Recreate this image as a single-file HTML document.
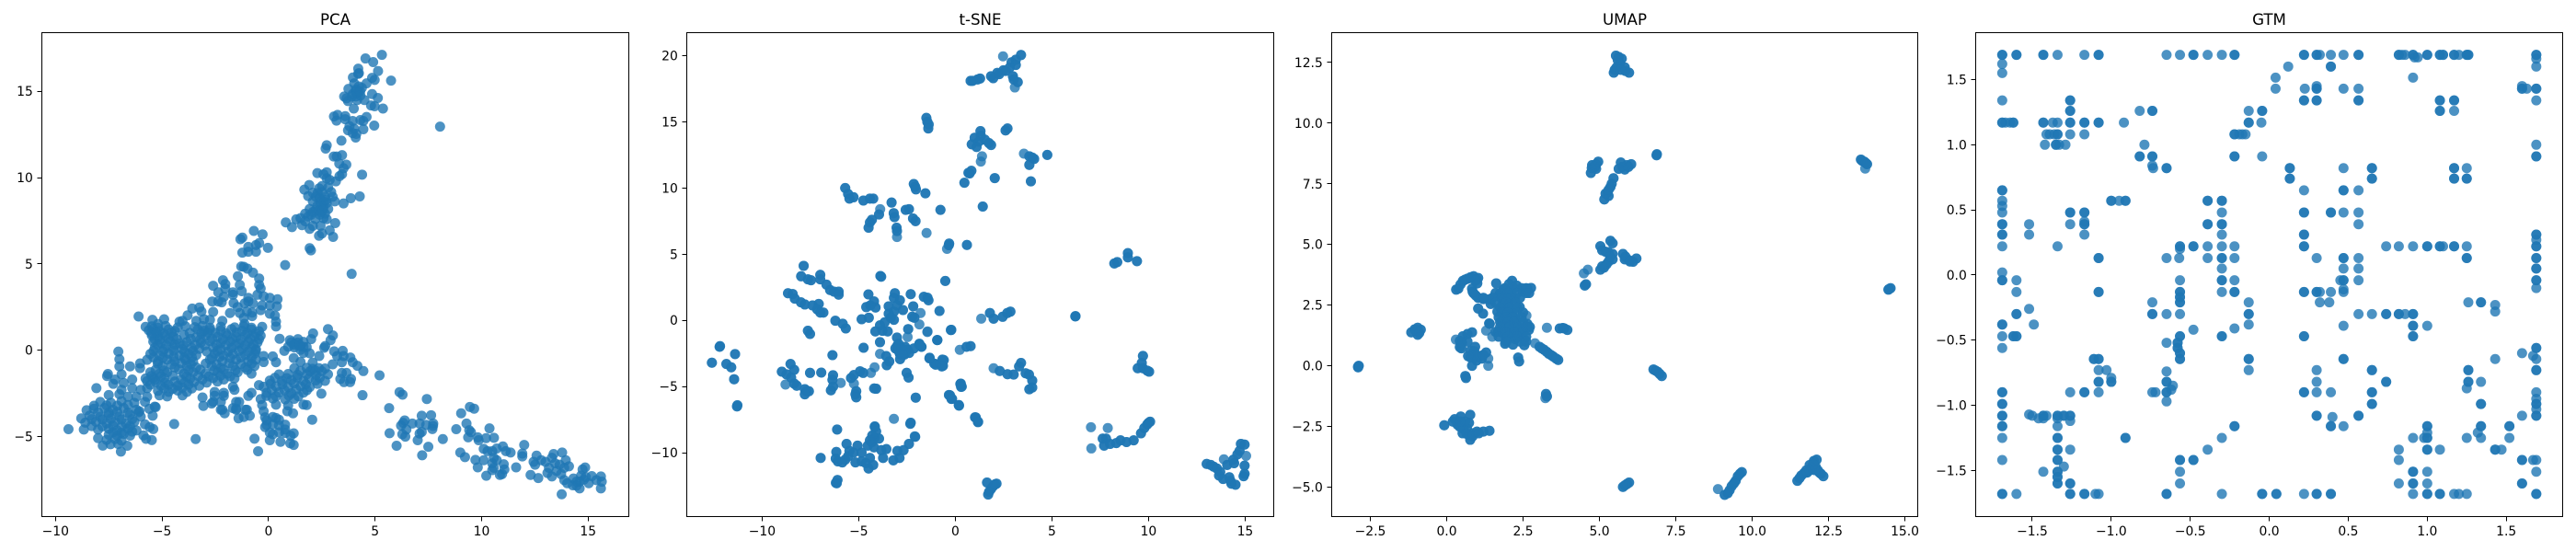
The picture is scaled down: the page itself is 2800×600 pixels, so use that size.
<!DOCTYPE html>
<html lang="en">
<head>
<meta charset="utf-8">
<title>PCA, t-SNE, UMAP and GTM projections</title>
<style>
html,body{margin:0;padding:0;background:#fff;width:2800px;height:600px;overflow:hidden}
svg{display:block}
text{font-family:"DejaVu Sans","Liberation Sans",sans-serif;fill:#000}
.tl{font-size:13.9px}
.title{font-size:16.67px;text-anchor:middle}
.frame{fill:none;stroke:#000;stroke-width:1}
</style>
</head>
<body>
<svg id="fig" width="2800" height="600" viewBox="0 0 2800 600" xmlns="http://www.w3.org/2000/svg">
  <rect x="0" y="0" width="2800" height="600" fill="#fff"/>
  <g id="pca">
    <text class="title" x="364.5" y="26.8">PCA</text>
  </g>
  <g id="tsne">
    <text class="title" x="1065.5" y="26.8">t-SNE</text>
  </g>
  <g id="umap">
    <text class="title" x="1766" y="26.8">UMAP</text>
  </g>
  <g id="gtm">
    <text class="title" x="2466.5" y="26.8">GTM</text>
  </g>
</svg>
<script>
const pcaXTicks=[-10,-5,0,5,10,15];
const pcaYTicks=[-5,0,5,10,15];
const tsneXTicks=[-10,-5,0,5,10,15];
const tsneYTicks=[-10,-5,0,5,10,15,20];
const umapXTicks=[-2.5,0,2.5,5,7.5,10,12.5,15];
const umapYTicks=[-5,-2.5,0,2.5,5,7.5,10,12.5];
const gtmXTicks=[-1.5,-1,-0.5,0,0.5,1,1.5];
const gtmYTicks=[-1.5,-1,-0.5,0,0.5,1,1.5];
const pcaXLimits=[-10.64,16.91];
const pcaYLimits=[-9.643,18.396];
const tsneXLimits=[-13.9,16.48];
const tsneYLimits=[-14.83,21.74];
const umapXLimits=[-3.765,15.42];
const umapYLimits=[-6.214,13.73];
const gtmXLimits=[-1.858,1.857];
const gtmYLimits=[-1.854,1.86];

const pcaPoints=[
[5.32,17.11],[4.55,16.9],[4.91,16.69],[5.14,16.17],[5.75,15.62],[4.21,16.31],[4.24,16.05],[4.21,16.01],[4.86,15.78],[4.98,15.66],[3.96,15.8],[4.02,15.46],[4.6,15.46],[3.75,15.14],[4.24,15.28],[4.38,15.2],[4.09,15],[4.21,14.93],[3.95,14.84],[4.31,14.75],[4.86,14.84],[5.13,14.61],[3.55,14.7],[3.66,14.59],[3.73,14.43],[4.16,14.49],[4.5,14.49],[4.81,14.18],[4.98,14.13],[5.37,14],[4,14],
[3.07,13.54],[3.24,13.63],[3.19,13.3],[3.6,13.56],[3.6,13.38],[3.95,13.28],[4.31,13.33],[4.6,13.51],[4.45,13.28],[4.96,13.01],[3.8,12.98],[3.73,12.74],[4.02,12.83],[4.45,12.8],[3.95,12.57],[4.12,12.53],[4.09,12.32],[3.42,12.14],[2.73,11.87],[2.68,11.68],[3.45,11.3],[3.06,11.22],[3.2,11.22],[3.65,10.75],[3.32,10.81],[3.52,10.54],[4.39,10.17],[3.45,10.2],[2.29,10.26],[2.73,10.31],[2.58,10.19],[3.33,10.08],[2.73,9.96],[2.87,9.87],[3.16,9.78],[2.51,9.51],[1.91,9.57],[1.68,9.3],[2.37,9.37],[2.8,9.42],[2.08,9.12],[2.51,9.16],[2.94,9.16],[1.86,8.93],[2.22,8.89],[2.65,8.89],[3.01,8.89],[4.28,8.91],[3.86,8.8],[3.52,8.5],[3.11,8.62],[2.08,8.62],[2.44,8.59],[2.73,8.53],[2.29,8.36],[2.58,8.27],[1.93,8.18],[2.8,8.18],[1.72,7.91],[2.08,8],[2.44,8],[2.65,7.91],[1.5,7.65],[1.86,7.74],[2.58,7.65],[1.3,7.58],[0.81,7.4],[1.1,7.13],[1.57,7.24],[1.72,7.47],[1.93,7.03],[2.08,7.2],[2.44,7.2],[2.73,7.59],[3.13,7.36],[2.87,6.94],[2.37,6.63],[2.51,6.76],[3.03,6.56],[1.93,5.91],[1.99,5.78],[8.05,12.95],[3.9,4.42],
[-0.69,6.91],[-0.28,6.71],[-1.23,6.52],[-1.32,6.43],[-0.44,6.2],[-0.95,5.98],[-0.59,6.09],[-0.03,5.93],[-1.23,5.65],[-0.95,5.7],[-0.59,5.7],[0.78,4.93],[-1.28,4.85],[-1.16,4.83],[-0.99,4.72],[-0.73,4.49],[-1.44,4.28],[-0.44,4.15],[-2.14,4.05],[-2.03,3.83],[-0.44,3.78],[-2.6,3.73],[-1.35,3.78],[-0.37,3.57],[-2.03,3.57],[-2.36,3.35],[-1.67,3.35],[-1.26,3.42],[-1.67,3.21],[-2.1,3.09],[-0.52,3.21],[-0.23,3.12],[-0.95,3.03],[0.06,3.03],[0.42,2.95],[-2.64,2.82],[-2.36,2.82],[-2.2,2.77],[-0.95,2.82],[-1.64,2.73],[-0.73,2.71],[-1.12,2.71],[0.06,2.59],[0.39,2.54],[-0.3,2.59],[-1.45,2.5],[-0.37,2.32],[-3.58,2.41],[-3.25,2.47],[-3.15,2.24],[-3.8,2.02],[-2.6,2.22],[-1.81,2.15],[-1.35,2.15],[-1.02,2.24],[-0.77,2.18],[0.06,2.11],[0.3,2],[-0.77,1.97],[-1.16,1.88],[-6.1,1.95],[-4.9,1.79],[-5.45,1.76],[-4.04,1.7],[-4.18,1.65],[0.35,1.65],[0.35,1.37],[-2.17,1.7],[-3.39,1.7],[-3.03,1.79],[-2.75,1.76],[-1.13,1.52],[-5.19,1.52],
[-5.77,1.35],[-5.48,1.38],[-5.19,1.3],[-4.83,1.4],[-4.26,1.32],[-3.9,1.38],[-3.46,1.33],[-3.1,1.4],[-2.75,1.3],[-2.24,1.36],[-1.59,1.32],[-1.16,1.38],[-0.8,1.3],[-0.3,1.35],
[-5.62,1.15],[-5.41,1.22],[-5.12,1.1],[-4.69,1.2],[-4.4,1.12],[-3.32,1.2],[-3.03,1.12],[-2.75,1.18],[-2.24,1.14],[-1.74,1.22],[-1.24,1.12],[-0.8,1.2],[-0.45,1.1],
[-5.48,0.86],[-5.19,0.76],[-4.83,0.85],[-4.47,0.78],[-3.97,0.88],[-3.39,0.75],[-2.96,0.84],[-2.39,0.78],[-1.95,0.85],[-1.52,0.76],[-1.09,0.86],[-0.66,0.78],[-0.37,0.84],
[-5.41,0.5],[-5.05,0.42],[-4.62,0.52],[-4.18,0.4],[-3.83,0.48],[-3.18,0.43],[-2.75,0.52],[-2.24,0.42],[-1.81,0.5],[-1.38,0.4],[-0.95,0.5],[-0.52,0.44],
[-5.34,0.14],[-4.9,0.06],[-4.47,0.15],[-4.04,0.05],[-3.61,0.13],[-3.25,0.07],[-2.6,0.14],[-2.24,0.05],[-1.74,0.12],[-1.24,0.08],[-0.8,0.14],[-0.59,0.04],
[-5.55,-0.22],[-5.12,-0.3],[-4.69,-0.2],[-4.18,-0.3],[-3.75,-0.22],[-3.39,-0.28],[-2.53,-0.2],[-2.1,-0.3],[-1.67,-0.22],[-1.09,-0.28],[-0.66,-0.2],
[-5.7,-0.56],[-5.19,-0.65],[-4.76,-0.55],[-4.4,-0.64],[-3.9,-0.56],[-3.54,-0.65],[-2.75,-0.55],[-2.17,-0.64],[-1.52,-0.56],[-0.95,-0.65],[-0.59,-0.55],
[-4.98,-0.92],[-4.4,-1],[-3.83,-0.92],[-3.39,-1],[-2.67,-0.92],[-2.24,-1.02],[-1.67,-0.92],[-1.09,-1],[-0.66,-0.92],
[-5.55,-1.28],[-5.12,-1.36],[-4.76,-1.28],[-3.97,-1.36],[-3.54,-1.28],[-2.96,-1.36],[-2.39,-1.28],[-1.95,-1.36],[-1.45,-1.28],[-0.8,-1.36],
[-5.77,-1.64],[-5.34,-1.7],[-4.9,-1.62],[-4.11,-1.7],[-3.68,-1.64],[-3.1,-1.7],[-2.6,-1.62],[-2.1,-1.7],[-1.6,-1.64],
[-5.55,-2],[-5.05,-2.06],[-4.69,-2],[-4.26,-2.06],[-3.75,-2],[-3.25,-2.06],[-5.19,-2.36],[-4.69,-2.42],[-4.26,-2.34],[-3.83,-2.42],[-5.12,-2.62],[-4.76,-2.68],[-4.04,-2.62],
[-2.53,-2.65],[-2.1,-2.65],[-2.6,-3],[-2.24,-3],[-1.52,-3],[-0.95,-2.65],[-2.24,-3.45],[-1.52,-3.45],[-1.02,-3.45],[-1.67,-3.36],[-1.38,-3],[-0.8,-2.47],[-0.45,-2.03],[-1.67,-2.12],[-1.6,-2.3],
[1.07,0.46],[1.36,0.44],[1.64,0.48],[0.92,0.19],[1.21,0.16],[1.5,0.22],[1.79,0.18],[1.64,-0.16],[1.93,-0.18],[-0.23,-0.34],[0.2,-0.36],[-0.23,-0.69],[0.35,-0.7],[1.5,-0.68],[2.07,-0.72],[1.21,-1.05],[1.79,-1.02],[2.07,-1.08],[2.36,-1.04],[2.65,-1.06],[0.49,-1.41],[0.92,-1.38],[1.36,-1.43],[1.79,-1.4],[2.22,-1.44],[2.79,-1.4],[0.06,-1.76],[0.63,-1.78],[1.07,-1.74],[1.64,-1.78],[2.22,-1.75],[2.65,-1.78],[-0.23,-2.12],[0.35,-2.1],[0.92,-2.14],[1.5,-2.1],[1.93,-2.14],[-0.09,-2.47],[0.49,-2.45],[1.07,-2.5],[1.64,-2.46],[-0.37,-2.83],[0.2,-2.8],[0.78,-2.85],[1.21,-2.82],[-0.3,-3.18],[0.35,-3.16],[0.92,-3.2],[-0.23,-3.54],[-0.16,-3.89],[0.2,-3.87],[-0.09,-4.34],[0.2,-4.3],[0.49,-4.36],[0.78,-4.32],[0.06,-4.78],[0.49,-4.76],[0.78,-4.8],
[0.52,0.66],[1,0.58],[1.38,0.64],[2.09,0.97],[2,0.64],[2.79,1.22],[3.02,0.85],[2.91,0.58],[2.61,0.14],[2.66,0.24],[1.21,0.37],[0.74,-0.04],[1.64,0.19],[1.5,0.02],[1.18,-0.46],[2.38,-0.34],[3.08,-0.07],[3.48,-0.04],[3.84,-0.43],[3.52,-0.34],[3.22,-0.34],[3.01,-0.82],[3.44,-0.7],[3.95,-0.7],[4.17,-0.91],[4.45,-1.21],[5.21,-1.46],[3.66,-1.32],[3.44,-1.32],[3.37,-1.67],[3.54,-1.85],[3.87,-1.67],[3.83,-1.85],[4.41,-2.61],[2.48,-2.52],[2.05,-4.03],[1.79,-3.18],[1.64,-3.15],[1.15,-3.66],[0.88,-3.54],[1.18,-5.49],[1.18,-4.82],[1.04,-4.96],[1.02,-5.4],[0.56,-5.31],[0.06,-5.22],[0.2,-4.87],[0.78,-4.6],[0.49,-4.03],[0.35,-3.93],[-0.16,-4.46],[-0.09,-4.07],[-0.66,-5.13],[-0.49,-5.86],[-0.88,-3.8],[-1.09,-3.45],[-1.41,-3.95],[-1.16,-3.87],[-1.52,-3.39],[-2.06,-3.66],[-2.17,-3.45],[-3.06,-3.23],[-2.67,-3.09],[-2.53,-2.42],[-2.1,-2.47],[-3.1,-2.74],[-3.42,-5.15],[-4.43,-4.28],[-5.48,-5.21],[-5.75,-5.14],[-5.87,-4.94],[-5.41,-4.57],[-5.58,-4.46],[-5.8,-4.3],[-5.44,-3.8],[-5.34,-3.27],[-6.06,-3.54],[-6.63,-5.54],[-6.93,-5.88],[-7.06,-5.44],[-7.42,-5.45],[-7.78,-5.53],[-8,-5.1],
[-9.39,-4.58],[-8.79,-3.95],[-8.67,-4.6],[-8.54,-3.48],[-8.19,-3.22],[-8.08,-2.2],[-7.54,-1.38],[-7.58,-1.5],[-7.05,-0.08],[-7,-0.53],[-7,-0.94],[-6.5,-0.94],[-6.03,-0.77],[-6.03,-1.04],[-7.29,-1.95],
[-7.5,-2.6],[-7,-2.55],[-7.9,-3],[-7.4,-3.05],[-6.9,-2.95],[-6.3,-3.05],[-5.8,-3],[-8.2,-3.4],[-7.7,-3.35],[-7.3,-3.45],[-6.8,-3.35],[-6.2,-3.45],[-5.6,-3.4],[-5.3,-3.3],[-8.4,-3.8],[-7.9,-3.85],[-7.5,-3.75],[-7,-3.85],[-6.5,-3.75],[-6,-3.85],[-8.6,-4.2],[-8.1,-4.15],[-7.6,-4.25],[-7.2,-4.15],[-6.7,-4.25],[-6.3,-4.15],[-8,-4.6],[-7.5,-4.55],[-7.1,-4.65],[-6.6,-4.55],[-6.2,-4.65],[-7.5,-4.9],[-7.1,-4.95],[-6.8,-4.85],[-6.5,-4.95],[-7.6,-5.2],[-7.2,-5.15],[-6.9,-5.25],
[-6.9,-1.4],[-6.8,-1.9],[-6.4,-1.7],[-6.9,-2.3],[-6.4,-2.2],[-6,-2.3],[-5.7,-2.2],[-6.6,-2.7],[-6.2,-2.7],[-7.2,-1.7],[-5.7,-1.8],[-5.4,-1.6],[-5.7,-2.7],
[6.15,-2.43],[6.29,-2.58],[7.43,-2.83],[5.66,-3.36],[7.19,-3.8],[7.63,-3.77],[6.39,-4.07],[6.32,-4.21],[6.75,-4.25],[6.22,-4.37],[6.47,-4.6],[7.09,-4.25],[7.4,-4.33],[7.73,-4.25],[7.72,-4.39],[7.69,-4.57],[7.19,-4.74],[7.09,-4.83],[5.68,-4.81],[6.28,-4.87],[6.42,-5.01],[7,-5.22],[8.18,-5.15],[6.01,-5.54],[7.5,-5.6],[7.21,-6.09],
[9.45,-3.29],[9.65,-3.39],[9.04,-3.66],[9.29,-4.25],[8.81,-4.58],[9.42,-4.64],[9.5,-4.75],[9.37,-5.05],[10.37,-4.53],[9.82,-5.05],[9.86,-5.22],[10.21,-5.1],[10.58,-5.08],[11,-5.58],[10.1,-5.72],[10.71,-5.7],[10.28,-5.85],[10.5,-5.85],[11.14,-5.85],[11.36,-5.93],[12,-5.49],[11.91,-5.99],[11.91,-6.16],[9,-5.93],[9.22,-6.2],[9.71,-6.36],[10.1,-6.38],[9.82,-6.79],[10.57,-6.24],[10.5,-6.56],[10.71,-6.38],[11.04,-6.61],[10.57,-6.82],[11.07,-6.91],[10.5,-6.95],[10.86,-7.23],[10.96,-7.18],[10.22,-7.28],[11.62,-6.79],[12.3,-7.23],[12.66,-7.41],
[12.44,-6.47],[12.58,-6.11],[12.51,-6.64],[12.8,-6.38],[13,-6.47],[13.38,-6.02],[13.3,-6.24],[13.78,-5.93],[13.95,-6.38],[13.16,-6.82],[13.45,-6.56],[13.66,-6.64],[14.1,-6.73],[13.88,-6.82],[13.09,-7.12],[13.3,-7.32],[13.52,-7],[13.73,-7.18],[13.88,-7.53],[14.02,-7.71],[14.31,-7.44],[14.6,-7.62],[14.28,-7.83],[14.6,-8.01],[14.74,-6.91],[14.86,-6.8],[14.89,-7.35],[14.67,-7.27],[15.17,-7.3],[15.03,-7.71],[15.39,-7.53],[15.6,-7.32],[15.64,-7.62],[15.6,-8.01],[13.76,-8.35],[14.46,-7.62],[14.46,-7.85],[14.8,-7.5],
[-5.5,1],[-5.25,1],[-4.95,0.98],[-4.55,1.02],[-3.7,1],[-3.15,0.98],[-2.85,1.02],[-2.5,1],[-2,0.98],[-1.5,1.02],[-1,1],[-0.6,0.98],
[-5.35,0.65],[-5.1,0.62],[-4.7,0.66],[-4.3,0.63],[-3.65,0.65],[-3.2,0.62],[-2.65,0.66],[-2.15,0.63],[-1.7,0.65],[-1.3,0.62],[-0.85,0.66],[-0.45,0.63],
[-5.2,0.3],[-4.8,0.28],[-4.4,0.32],[-4,0.28],[-3.45,0.3],[-3,0.28],[-2.45,0.32],[-2,0.28],[-1.55,0.3],[-1.1,0.28],[-0.7,0.32],
[-5.4,-0.05],[-4.95,-0.08],[-4.45,-0.04],[-3.95,-0.08],[-3.55,-0.05],[-2.9,-0.08],[-2.4,-0.04],[-1.9,-0.08],[-1.4,-0.05],[-0.95,-0.08],[-0.6,-0.04],
[-5.4,-0.42],[-4.95,-0.45],[-4.45,-0.4],[-3.95,-0.44],[-3.6,-0.42],[-2.65,-0.45],[-2.3,-0.4],[-1.8,-0.44],[-1.3,-0.42],[-0.8,-0.45],
[-5.2,-0.78],[-4.55,-0.82],[-4.1,-0.76],[-3.65,-0.8],[-2.95,-0.78],[-2.45,-0.82],[-1.85,-0.76],[-1.3,-0.8],[-0.8,-0.78],
[-5.3,-1.14],[-4.9,-1.18],[-4.2,-1.12],[-3.75,-1.16],[-3.2,-1.14],[-2.55,-1.18],[-2.1,-1.12],[-1.55,-1.16],[-1,-1.14],
[-5.5,-1.5],[-5.05,-1.52],[-4.5,-1.48],[-3.85,-1.52],[-3.3,-1.5],[-2.8,-1.52],[-2.25,-1.48],[-1.8,-1.52],
[-5.3,-1.85],[-4.85,-1.88],[-4.4,-1.82],[-3.95,-1.88],[-3.5,-1.85],[-2.9,-1.88],[-2.4,-1.82],[-4.9,-2.2],[-4.5,-2.24],[-4.05,-2.18],[-3.6,-2.22],
[-7.6,-3.2],[-7.1,-3.22],[-6.6,-3.18],[-8,-3.6],[-7.5,-3.62],[-7.1,-3.58],[-6.6,-3.62],[-6.1,-3.6],[-8.3,-4],[-7.8,-4.02],[-7.4,-3.98],[-6.9,-4.02],[-6.4,-4],[-8.3,-4.4],[-7.8,-4.42],[-7.3,-4.38],[-6.9,-4.42],[-6.5,-4.4],[-7.3,-4.75],[-6.9,-4.78],[-6.4,-4.72],
[0.3,-1.6],[0.85,-1.62],[1.35,-1.58],[1.9,-1.62],[2.4,-1.6],[0.1,-1.95],[0.65,-1.97],[1.2,-1.93],[1.75,-1.97],[2.3,-1.95],[0.15,-2.3],[0.75,-2.32],[1.3,-2.28],[1.8,-2.32],[-0.1,-2.65],[0.35,-2.67],[0.95,-2.63],[1.4,-2.67],[1.5,-1.2],[1.95,-1.22],[2.2,-1.18],[2.5,-1.22],[1.2,0.3],[1.45,0.32],
[2.3,9.1],[2.4,8.8],[2.6,8.6],[2.45,8.4],[2.7,8.7],[2.35,8.1],[2.2,8.1],[2.55,8.1],[2.4,7.85],[2,7.85],[2.2,7.6],[4.1,15.1],[4.1,14.7],[4.3,15],[4.15,14.9],[3.9,14.7]
];

const tsneLonePoints=[
[2.47,19.95],[3.08,17.6],[3.55,12.6],[1.32,12],[1.38,12.4],[-3.18,-7.44],[7.02,-8.08],[7.89,-8.14],[7.04,-9.68],[15.05,-10.24],[13.9,-10.5],[-2.1,-8.76],[1.34,0.13],[1.98,-3.62],[0.23,-2.23],[-3.02,6.3],[-1.49,6.6],[-2.47,-1.26],[-1.44,-0.84],[-1.8,0.55],[-1.86,-0.31],[-3.9,-2.53],[-4.18,-3.55],[-8.79,-4.85],[-5.93,-4.73],[-5.25,-4.78],[-4.37,-3.97],[-1.45,-0.88],[-0.43,5.4],[-3.89,8.4]
];
const tsnePoints=[
[3.4,20.05],[3.13,19.7],[2.91,19.5],[3.13,19.3],[2.81,19.1],[2.49,18.9],[2.17,18.7],[1.85,18.45],[1.96,18.3],[2.27,18.6],[2.6,18.85],[2.98,18.45],[3.02,18.2],[3.23,18],[1.28,18.27],[1.15,18.2],[0.79,18.1],[0.89,18.1],
[-1.5,15.3],[-1.45,15],[-1.38,14.8],[-1.4,14.5],[2.7,14.5],[2.6,14.35],[1.3,14.3],[1.32,13.95],[1,13.8],[1.53,13.65],[0.85,13.3],[1.21,13.5],[1.1,13.1],[1.85,13.25],[1.74,13.4],[3.83,12.4],[4.08,12.2],[3.98,12.3],[3.83,11.75],[4.76,12.5],[0.83,11.3],[0.74,11.1],[0.68,11.15],[2.04,10.75],[3.91,10.5],[0.47,10.4],[1.42,8.6],
[-5.7,10],[-5.55,9.55],[-5.27,9.3],[-5.48,9.2],[-4.76,9.05],[-4.42,9.2],[-4.25,9.2],[-2.15,10.3],[-2.08,10.1],[-2.04,9.9],[-1.55,9.6],[-3.3,8.9],[-3.95,8],[-4.32,7.6],[-4.42,7.4],[-4.49,7],[-3.19,8.1],[-3.15,7.8],[-2.57,8.35],[-2.4,8.4],[-2.19,7.7],[-2.06,7.5],[-0.77,8.35],[-3.04,7],[-3.02,6.75],[-0.32,5.8],[-0.34,5.68],[0.6,5.7],
[8.23,4.3],[8.38,4.4],[8.93,5.08],[8.93,4.76],[9.4,4.47],[6.21,0.3],[6.22,0.32],
[-7.85,4.12],[-7.98,3.33],[-7.63,3.1],[-7.47,3.03],[-6.99,3.44],[-6.99,3.1],[-6.67,2.7],[-6.48,2.29],[-6.28,2.17],[-6.04,2.17],[-6.04,1.94],[-8.66,2.05],[-8.42,1.99],[-8.31,1.64],[-7.99,1.36],[-7.79,1.2],[-7.39,1.13],[-7.07,1.24],[-7.15,0.83],[-6.99,0.59],[-6.83,0.59],[-6.21,-0.03],[-5.83,-0.26],[-5.67,-0.61],[-7.63,-0.79],[-7.52,-1.03],
[-3.88,3.35],[-3.84,3.3],[-4.5,1.96],[-4.21,1.43],[-4.61,1],[-4.13,0.97],[-4.4,1.13],[-4.85,0.08],[-4.48,0.2],[-3.13,2.05],[-3.18,1.7],[-2.87,1.52],[-3.45,1.06],[-3.02,1.13],[-2.71,0.78],[-3.18,0.66],[-3.45,0.5],[-3.18,0.04],[-3.66,-0.15],[-3.34,0.2],[-2.31,1.98],[-2.18,1.06],[-2.12,0.2],[-2.23,0.27],[-1.63,1.78],[-1.44,1.71],[-1.39,1.52],[-0.82,0.71],[-0.52,2.98],[-0.23,-0.73],[-2.44,-0.66],[-0.93,-1.49],[-3.9,-0.38],[-4.14,-0.84],[-3.77,-0.79],[-3.5,-0.84],[-3.9,-1.65],[-4.75,-2.07],[-6.36,-2.63],[-3.58,-2.7],[-3.42,-3.11],[-3.55,-3.39],[-3.02,-1.3],[-2.94,-1.77],[-3.1,-2.12],[-2.79,-2.12],[-2.47,-2.23],[-2.15,-2.12],[-1.75,-2],[-1.86,-1.77],[-2.86,-2.58],[-2.63,-2.58],[-2.86,-2.93],[-2.39,-2.46],[-3,-2.2],[-2.9,-2.4],[-2.7,-2.3],[-3,-1.9],[-2.6,-2],[-2.75,-2.6],[-1.33,-2.83],[-1.09,-3.27],[-0.8,-3.27],[-0.67,-2.97],[-0.64,-3.44],[0.58,-2],[0.79,-1.95],
[1.79,0.55],[1.98,0.13],[2.45,0.27],[2.69,0.55],[2.85,0.66],[2.3,-3.83],[2.7,-4.07],[3.02,-4.1],[3.4,-3.22],[3.3,-3.48],[3.81,-4.1],[3.98,-4.55],[3.83,-5.21],[3.98,-5.08],[3.64,-4],
[-8.53,-3.3],[-8.34,-3.74],[-8.98,-3.88],[-8.74,-4.08],[-8.5,-4.32],[-8.34,-4.78],[-8.21,-4.94],[-7.52,-3.97],[-6.94,-3.95],[-7.79,-5.2],[-7.71,-5.36],[-7.58,-5.36],[-7.79,-5.59],[-6.33,-4.15],[-6.36,-4.5],[-6.44,-5.29],[-6.33,-5.01],[-5.4,-4.36],[-5.25,-4.13],[-4.93,-3.85],[-4.77,-3.97],[-5.13,-5.36],[-5.17,-5.59],[-5.13,-5.82],[-4.1,-5.17],[-4.2,-5.15],[-2.52,-3.97],[-2.42,-4.32],[-2.05,-5.84],[0.28,-4.78],[0.33,-5.01],[-0.33,-5.64],[-0.2,-5.94],[0.18,-6.4],[1.02,-7.33],[1.18,-7.67],[-6.12,-8.25],[-2.31,-7.74],[-2.33,-7.82],[-4.17,-8.02],
[-12.6,-3.2],[-12.2,-2],[-12.18,-1.95],[-11.4,-2.55],[-11.85,-3.3],[-11.6,-3.55],[-11.45,-4.45],[-11.3,-6.5],[-11.28,-6.42],[-0.6,-3],[-0.7,-3.48],[-1.02,-3.35],[-1.34,-2.87],[-1.87,-1.84],[-1.76,-2],
[-6.97,-10.4],[-6.16,-9.95],[-6.19,-10.45],[-6.08,-10.66],[-5.85,-10.74],[-5.7,-10.53],[-5.63,-9.34],[-5.48,-9.87],[-5.55,-10.27],[-5.27,-10],[-5.06,-9.47],[-4.85,-10],[-5.17,-10.74],[-4.85,-10.66],[-4.53,-9.47],[-4.32,-9.2],[-4.17,-8.86],[-4.17,-8.06],[-3.95,-8.94],[-4.42,-10.4],[-4.63,-10.8],[-4.49,-11.2],[-4.25,-10.93],[-4.21,-9.6],[-3.83,-9.81],[-3.74,-10.4],[-3.57,-9.73],[-3.21,-10.58],[-2.89,-10.4],[-3,-9.87],[-2.68,-9.81],[-2.4,-9.34],[-2.08,-8.8],[-4.42,-9.07],[-4.1,-8.4],[-4.3,-8.7],[-6.1,-12.07],[-6.14,-12.31],[-6.18,-12.28],
[1.64,-12.26],[2.13,-12.34],[1.96,-12.53],[1.85,-12.74],[1.7,-13.16],[1.75,-12.95],[2.05,-12.4],
[7.63,-8.94],[7.8,-8.94],[7.7,-9.47],[8.01,-9.34],[8.33,-9.28],[8.55,-9.07],[8.86,-9.2],[9.23,-9.07],[9.61,-8.54],[9.78,-8.14],[9.93,-7.87],[10.08,-7.66],[10,-7.75],
[9.71,-2.69],[9.65,-3.22],[9.44,-3.62],[9.71,-3.62],[9.93,-3.8],[10.03,-3.88],
[13.01,-10.85],[13.22,-10.93],[13.37,-11.06],[13.54,-11.2],[13.71,-11.46],[13.65,-11.73],[14.07,-10.93],[14.39,-10.53],[14.43,-10.8],[14.6,-10.13],[14.71,-9.87],[14.78,-9.34],[14.97,-9.39],[14.97,-10.98],[14.92,-11.78],[14.97,-11.6],[13.86,-11.99],[14.18,-11.86],[14.24,-12.13],[14.29,-12.34],[14.5,-12.42],
[0.26,-4.81],[0.3,-5.03],[-0.28,-5.66],[-0.17,-5.93],[0.19,-6.44],[1.06,-7.34],[1.17,-7.69],[-0.21,-0.72],[-0.94,-1.49]
];

const umapLonePoints=[
[0.3,1.08],[3.28,1.57],[8.88,-5.08],[13.7,8.13],[4.62,3.96],[4.49,3.81],[1.29,1.45],[1.49,1.2],[2.61,2.07],[2.89,0.93],[1.36,0],[1.36,0.3],[3.23,-1.33]
];
const umapPoints=[
[0.38,3.18],[0.31,3.14],[0.53,3.5],[0.68,3.59],[0.88,3.69],[1.03,3.62],[0.93,3.5],[0.83,3.18],[0.88,2.99],[1.03,2.8],[1.39,2.74],[1.44,2.55],[1.62,3.4],[2.14,3.5],[2.04,3.37],[2.29,3.31],[2.64,3.18],[2.76,3.21],[2.49,3.06],[1.84,3.12],[2.09,3.06],[1.69,2.87],[1.94,2.8],[2.24,2.8],[2.39,2.42],[1.84,2.55],[2.04,2.55],[1.66,2.23],[1.03,2.36],[1.19,2.15],[1.89,2.23],[2.14,2.17],[1.41,1.73],[1.39,1.75],[1.82,1.85],[2.04,1.92],[2.29,1.85],[2.64,1.73],[2.72,1.6],[1.94,1.6],[2.19,1.6],[2.49,1.54],[2.69,1.48],[1.69,1.41],[1.84,1.35],[2.09,1.35],[2.34,1.35],[1.94,1.1],[2.24,1.1],[2.54,1.1],[1.91,0.91],[2.17,0.87],[2.54,0.85],[3.7,1.54],[3.85,1.54],[3.95,1.48],[3.8,1.56],[3.04,0.78],[3.19,0.66],[3.34,0.5],[3.49,0.38],[3.65,0.24],[3.11,0.72],[3.27,0.58],[3.42,0.44],[3.58,0.3],[2.34,0.34],[2.37,0.18],
[0.53,1.22],[0.68,1.31],[0.83,1.38],[0.43,1.03],[0.48,0.72],[0.43,0.77],[0.93,0.78],[0.83,0.47],[0.78,0.34],[1.08,0.4],[1.29,0.55],[0.98,0.22],[0.83,0],[0.68,1],[0.78,0.62],[0.61,-0.42],[0.63,-0.5],
[-2.9,-0.03],[-2.9,-0.06],[-2.88,0],[-1.16,1.38],[-0.95,1.57],[-0.95,1.28],[-0.85,1.49],[-1.02,1.45],[3.25,-1.16],[3.28,-1.26],
[-0.08,-2.45],[0.26,-2.2],[0.46,-2.09],[0.77,-2.02],[0.35,-2.42],[0.52,-2.78],[0.66,-2.57],[0.77,-3.05],[0.86,-2.78],[0.99,-2.71],[1.2,-2.71],[1.4,-2.68],[0.73,-2.85],[0.73,-2.35],
[5.54,12.78],[5.63,12.73],[5.73,12.66],[5.67,12.47],[5.56,12.3],[5.47,12.08],[5.97,12.08],[5.83,12.3],[6.88,8.72],[6.87,8.68],[13.56,8.5],[13.67,8.41],[13.76,8.31],[14.48,3.16],[14.53,3.2],[14.46,3.14],
[4.72,7.95],[4.76,8.27],[4.89,8.31],[4.96,8.41],[4.89,8.12],[5.7,8.38],[5.63,8.12],[5.83,8.09],[6.04,8.31],[5.9,8.27],[5.46,7.73],[5.36,7.37],[5.27,7.15],[5.16,6.86],[5.3,7],
[5.36,5.15],[5.43,5.05],[5.03,4.93],[5.09,4.76],[5.3,4.68],[5.43,4.61],[5.43,4.39],[5.23,4.18],[5.09,4.1],[5.03,3.96],[5.77,4.61],[5.83,4.39],[6.1,4.29],[6.21,4.42],[5.97,4.35],[4.52,3.31],[4.56,3.36],
[6.77,-0.15],[6.91,-0.25],[7.04,-0.42],[5.83,-4.93],[5.97,-4.81],[5.77,-4.99],[9.1,-5.32],[9.26,-5.13],[9.33,-4.96],[9.46,-4.74],[9.53,-4.55],[9.66,-4.38],
[11.48,-4.74],[11.61,-4.52],[11.77,-4.31],[11.88,-4.09],[12.02,-3.92],[12.11,-3.87],[12.08,-4.16],[12.15,-4.31],[12.33,-4.55],[11.88,-4.31],
[1.9,3.2],[2.2,3.2],[2.45,3.2],[2.6,3.2],[1.6,3],[1.75,3],[2,3],[2.3,3],[2.6,3],[2.7,3],[1.2,2.8],[1.5,2.8],[1.8,2.8],[2.1,2.8],[2.4,2.8],[1.6,2.6],[1.95,2.6],[2.25,2.6],[1.75,2.4],[2.05,2.4],[2.3,2.4],[1.8,2.2],[2,2.2],[2.3,2.2],[2.5,2.2],[1.7,2],[1.95,2],[2.15,2],[2.45,2],[1.75,1.8],[2,1.8],[2.2,1.8],[2.5,1.8],[1.75,1.6],[2.05,1.6],[2.35,1.6],[2.6,1.6],[1.6,1.4],[1.9,1.4],[2.2,1.4],[2.5,1.4],[1.7,1.2],[2,1.2],[2.3,1.2],[2.6,1.2],[1.95,1],[2.4,1],[2.6,1],
[0.45,3.35],[0.6,3.55],[0.78,3.65],[0.98,3.55],[1,3.4],[0.85,3.05],[0.95,2.9],[1.2,2.75],
[0.2,-2.3],[0.42,-2.5],[0.55,-2.6],[0.65,-2.8],[0.85,-2.9],[1.05,-2.78],[0.6,-2.3],[0.45,-2.3],[5.5,12.2],[5.7,12.2],[5.85,12.15],[5.6,12.6],[5.2,7.1],[5.3,7.25],[5.4,7.5],[4.75,8.15],[4.85,8.2],[5.75,8.2],[5.95,8.2],[5.15,4.05],[5.3,4.3],[5.35,4.5],[5.2,4.7],[5.85,4.5],[6,4.3],[9.2,-5.25],[9.4,-4.85],[9.6,-4.45],[11.55,-4.63],[11.7,-4.42],[11.95,-4.2],[12,-4.05],[12.2,-4.4],[12.25,-4.45],[12.05,-4.3],[11.8,-4.4],[6.84,-0.2],[6.97,-0.33],[5.9,-4.87],[13.6,8.45],[13.72,8.36],[0.5,0.95],[0.9,0.6],[0.95,0.45],[1.15,0.3],[0.95,0.35],[1.2,0.45],[0.7,0.4],[-1.05,1.5],[-0.9,1.35]
];

const gtmPoints=[
[-1.69,1.69],[-1.69,1.69],[-1.6,1.69],[-1.6,1.69],[-1.43,1.69],[-1.43,1.69],[-1.34,1.69],[-1.17,1.69],[-1.08,1.69],[-1.08,1.69],[-0.65,1.69],[-0.565,1.69],[-0.48,1.69],[-0.48,1.69],[-0.39,1.69],[-0.3,1.69],[-0.22,1.69],[-0.22,1.69],[0.22,1.69],[0.22,1.69],[0.3,1.69],[0.3,1.69],[0.32,1.69],[0.39,1.69],[0.47,1.69],[0.565,1.69],[0.565,1.69],[0.82,1.69],[0.82,1.69],[0.84,1.69],[0.86,1.69],[0.91,1.69],[0.91,1.69],[1,1.69],[1,1.69],[1.08,1.69],[1.08,1.69],[1.1,1.69],[1.1,1.69],[1.17,1.69],[1.17,1.69],[1.2,1.69],[1.25,1.69],[1.25,1.69],[1.26,1.69],[1.26,1.69],[1.69,1.69],[1.69,1.69],
[0.92,1.67],[0.94,1.67],[1.69,1.66],[-1.69,1.62],[1.69,1.6],[0.12,1.6],[0.39,1.6],[0.39,1.6],[-1.69,1.55],[0.04,1.515],[0.91,1.515],
[0.04,1.43],[0.225,1.43],[0.3,1.43],[0.3,1.43],[0.47,1.43],[0.565,1.43],[1.6,1.43],[1.6,1.43],[1.63,1.43],[1.69,1.43],[1.69,1.43],[0.3,1.45],[1.6,1.45],
[-1.69,1.34],[-1.26,1.34],[-1.26,1.34],[0.22,1.34],[0.22,1.34],[0.3,1.34],[0.3,1.34],[0.565,1.34],[0.565,1.34],[1.08,1.34],[1.08,1.34],[1.17,1.34],[1.17,1.34],[1.69,1.34],
[-1.26,1.26],[-1.26,1.26],[-0.82,1.26],[-0.74,1.26],[-0.74,1.26],[-0.13,1.26],[-0.045,1.26],[-0.045,1.26],[1.08,1.26],[1.08,1.26],[1.17,1.26],
[-1.69,1.17],[-1.69,1.17],[-1.67,1.17],[-1.64,1.17],[-1.62,1.17],[-1.62,1.17],[-1.43,1.17],[-1.43,1.17],[-1.37,1.17],[-1.34,1.17],[-1.26,1.17],[-1.26,1.17],[-1.17,1.17],[-1.17,1.17],[-1.08,1.17],[-1.08,1.17],[-0.92,1.17],[-0.13,1.17],[-0.13,1.17],[-0.05,1.17],
[-1.41,1.08],[-1.39,1.08],[-1.36,1.08],[-1.34,1.08],[-1.34,1.08],[-1.26,1.08],[-1.17,1.08],[-0.22,1.08],[-0.22,1.08],[-0.19,1.08],[-0.17,1.08],[-0.15,1.08],
[-1.42,1],[-1.35,1],[-1.35,1],[-1.33,1],[-1.29,1],[-0.79,1],[1.69,1],
[-0.82,0.91],[-0.82,0.91],[-0.74,0.91],[-0.74,0.91],[-0.22,0.91],[-0.22,0.91],[-0.045,0.91],[1.69,0.91],[1.69,0.91],
[-0.74,0.84],[-0.735,0.82],[-0.65,0.82],[-0.65,0.82],[0.13,0.82],[0.13,0.82],[0.47,0.82],[0.65,0.82],[0.65,0.82],[1.17,0.82],[1.17,0.82],[1.25,0.82],
[0.13,0.74],[0.13,0.74],[0.65,0.74],[0.65,0.74],[1.17,0.74],[1.17,0.74],[1.25,0.74],[1.25,0.74],
[-1.69,0.65],[-1.69,0.65],[0.22,0.65],[0.47,0.65],[0.47,0.65],[0.565,0.65],
[-1.69,0.57],[-1,0.57],[-1,0.57],[-0.95,0.57],[-0.91,0.57],[-0.91,0.57],[-0.39,0.57],[-0.39,0.57],[-0.3,0.57],[-0.3,0.57],[-1.69,0.53],
[-1.69,0.48],[-1.26,0.48],[-1.26,0.48],[-1.17,0.48],[-1.17,0.48],[-0.3,0.48],[0.22,0.48],[0.22,0.48],[0.39,0.48],[0.39,0.48],[0.47,0.48],[0.565,0.48],
[-1.69,0.39],[-1.69,0.39],[-1.52,0.39],[-1.26,0.39],[-1.17,0.39],[-1.17,0.39],[-0.39,0.39],[-0.39,0.39],[-0.3,0.39],[-0.3,0.39],[0.565,0.39],[-1.17,0.41],
[-1.69,0.31],[-1.69,0.31],[-1.52,0.31],[-1.17,0.31],[-0.3,0.31],[0.22,0.31],[0.22,0.31],[1.69,0.31],[1.69,0.31],
[-1.69,0.22],[-1.34,0.22],[-0.565,0.22],[-0.565,0.22],[-0.48,0.22],[-0.48,0.22],[-0.39,0.22],[-0.3,0.22],[-0.22,0.22],[0.22,0.22],[0.22,0.22],[0.74,0.22],[0.82,0.22],[0.91,0.22],[1,0.22],[1,0.22],[1.08,0.22],[1.08,0.22],[1.1,0.22],[1.17,0.22],[1.17,0.22],[1.25,0.22],[1.69,0.22],[1.69,0.22],[1.69,0.27],[-0.565,0.2],
[-1.08,0.13],[-1.08,0.13],[-0.65,0.13],[-0.57,0.13],[-0.39,0.13],[-0.3,0.13],[-0.3,0.13],[-0.22,0.13],[0.3,0.13],[0.47,0.13],[0.47,0.13],[0.565,0.13],[1.25,0.13],[1.25,0.13],[1.69,0.13],[1.69,0.13],
[-0.3,0.05],[0.47,0.05],[0.565,0.05],[1.69,0.05],[1.69,0.05],[-1.69,0.02],
[-1.69,-0.04],[-1.69,-0.04],[-1.6,-0.04],[-0.565,-0.04],[-0.3,-0.04],[-0.3,-0.04],[-0.22,-0.04],[0.45,-0.04],[0.47,-0.04],[0.47,-0.04],[0.565,-0.04],[1.69,-0.04],[1.69,-0.04],
[-1.6,-0.13],[-1.08,-0.13],[-1.08,-0.13],[-0.565,-0.13],[-0.565,-0.13],[-0.3,-0.13],[-0.22,-0.13],[-0.22,-0.13],[0.22,-0.13],[0.22,-0.13],[0.3,-0.13],[0.3,-0.13],[0.32,-0.13],[0.39,-0.13],[0.47,-0.13],[0.47,-0.11],[1.69,-0.1],
[-0.565,-0.17],[-0.565,-0.17],[-0.74,-0.21],[-0.565,-0.21],[-0.565,-0.21],[-0.13,-0.21],[0.32,-0.21],[0.38,-0.21],[1.26,-0.21],[1.34,-0.21],[1.34,-0.21],[1.43,-0.23],[-1.52,-0.26],
[-1.6,-0.3],[-1.6,-0.3],[-0.74,-0.3],[-0.74,-0.3],[-0.65,-0.3],[-0.565,-0.3],[-0.13,-0.3],[-0.13,-0.3],[0.565,-0.3],[0.65,-0.3],[0.74,-0.3],[0.74,-0.3],[0.82,-0.3],[0.82,-0.3],[0.86,-0.3],[0.91,-0.3],[0.91,-0.3],[1.43,-0.28],
[-1.69,-0.38],[-1.69,-0.38],[-1.49,-0.38],[-0.13,-0.38],[0.47,-0.39],[0.91,-0.39],[0.91,-0.39],[1,-0.39],[-0.48,-0.42],[-0.22,-0.41],
[-1.69,-0.47],[-1.62,-0.47],[-1.62,-0.47],[-1.6,-0.47],[-1.6,-0.47],[-0.565,-0.47],[-0.565,-0.47],[-0.3,-0.47],[-0.3,-0.47],[0.22,-0.47],[0.22,-0.47],[0.91,-0.47],[0.91,-0.47],
[-0.65,-0.52],[-0.58,-0.52],[-0.58,-0.52],[-1.69,-0.56],[-0.58,-0.56],[-0.58,-0.56],[1.69,-0.56],[1.69,-0.56],[-0.565,-0.6],[-0.565,-0.6],[1.6,-0.6],[1.67,-0.62],
[-1.11,-0.645],[-1.11,-0.645],[-1.08,-0.645],[-1.08,-0.645],[-0.565,-0.645],[-0.565,-0.645],[-0.13,-0.645],[-0.13,-0.645],[0.47,-0.645],[0.47,-0.645],[1.43,-0.645],[1.69,-0.645],
[-1.08,-0.73],[-1.03,-0.73],[-0.65,-0.74],[-0.13,-0.73],[0.3,-0.73],[0.65,-0.73],[0.65,-0.73],[1.26,-0.73],[1.26,-0.73],[1.69,-0.73],[1.69,-0.73],[-1,-0.79],
[-1.08,-0.82],[-1.08,-0.82],[-1,-0.82],[-1,-0.82],[-0.65,-0.82],[-0.65,-0.82],[0.3,-0.82],[0.74,-0.82],[0.74,-0.82],[1.26,-0.82],[1.26,-0.82],[1.34,-0.82],[-0.61,-0.85],[-0.62,-0.88],[1.25,-0.87],
[-1.69,-0.9],[-1.69,-0.9],[-1.26,-0.9],[-1.17,-0.9],[-1.17,-0.9],[-1.08,-0.9],[-0.74,-0.9],[-0.72,-0.9],[-0.65,-0.9],[-0.65,-0.9],[0.22,-0.9],[0.22,-0.9],[0.3,-0.9],[0.39,-0.9],[0.65,-0.9],[0.65,-0.9],[1.69,-0.9],[-0.65,-0.97],[1.69,-0.95],
[-1.69,-0.99],[-1.69,-0.99],[1.34,-0.99],[1.34,-0.99],[0.65,-0.99],[0.65,-0.99],[1.69,-0.99],[1.69,-0.99],[1.69,-1.03],
[-1.69,-1.08],[-1.69,-1.08],[-1.52,-1.07],[-1.5,-1.08],[-1.43,-1.08],[-1.43,-1.08],[-1.41,-1.08],[-1.34,-1.08],[-1.34,-1.08],[-1.3,-1.08],[-1.3,-1.08],[-1.26,-1.08],[-1.26,-1.08],[0.3,-1.08],[0.3,-1.08],[0.4,-1.09],[0.565,-1.08],[0.565,-1.08],[1.6,-1.08],[1.69,-1.08],[1.69,-1.08],[-1.46,-1.1],[-1.43,-1.1],[-1.34,-1.1],[-1.26,-1.12],
[-1.69,-1.16],[-1.69,-1.16],[-1.34,-1.16],[-0.22,-1.16],[-0.22,-1.16],[0.39,-1.16],[0.39,-1.16],[0.47,-1.16],[1,-1.16],[1,-1.16],[1.34,-1.16],[1.34,-1.16],[1.52,-1.16],[1.52,-1.16],[1,-1.21],[1.32,-1.21],
[-1.69,-1.25],[-1.34,-1.25],[-1.34,-1.25],[-0.91,-1.25],[-0.91,-1.25],[-0.3,-1.25],[0.91,-1.25],[0.98,-1.25],[1,-1.25],[1,-1.25],[1.25,-1.25],[1.34,-1.25],[1.52,-1.25],
[-1.34,-1.34],[-1.34,-1.34],[-1.26,-1.34],[-0.39,-1.34],[0.82,-1.34],[1,-1.34],[1,-1.34],[1.08,-1.34],[1.43,-1.34],[1.43,-1.34],[1.47,-1.34],
[-1.69,-1.42],[-1.34,-1.42],[-1.34,-1.42],[-0.565,-1.42],[-0.565,-1.42],[-0.48,-1.42],[-0.48,-1.42],[0.82,-1.42],[1.6,-1.42],[1.6,-1.42],[1.67,-1.42],[1.69,-1.42],[-1.3,-1.47],
[-1.43,-1.51],[-1.34,-1.51],[-1.34,-1.51],[-0.565,-1.51],[0.91,-1.51],[0.91,-1.51],[1,-1.51],[1.69,-1.51],[-1.34,-1.55],[-1.34,-1.55],
[-1.34,-1.6],[-1.34,-1.6],[-1.26,-1.6],[-1.26,-1.6],[-0.565,-1.6],[0.82,-1.6],[0.91,-1.6],[0.91,-1.6],[1,-1.6],[1.6,-1.6],[1.6,-1.6],
[-1.69,-1.68],[-1.69,-1.68],[-1.6,-1.68],[-1.26,-1.68],[-1.26,-1.68],[-1.17,-1.68],[-1.17,-1.68],[-1.1,-1.68],[-1.08,-1.68],[-0.65,-1.68],[-0.65,-1.68],[-0.3,-1.68],[-0.045,-1.68],[-0.045,-1.68],[0.045,-1.68],[0.045,-1.68],[0.22,-1.68],[0.3,-1.68],[0.3,-1.68],[0.39,-1.68],[0.39,-1.68],[0.91,-1.68],[1,-1.68],[1,-1.68],[1.08,-1.68],[1.08,-1.68],[1.17,-1.68],[1.2,-1.68],[1.25,-1.68],[1.69,-1.68],[1.69,-1.68]
];

const NS='http://www.w3.org/2000/svg';
function linearScale(domain,range){
  return function(v){return range[0]+(v-domain[0])*(range[1]-range[0])/(domain[1]-domain[0]);};
}
function fmt(v,decimals){
  return v.toFixed(decimals).replace('-','\u2212');
}
function addPoints(g,id,points,sx,sy){
  points.forEach(function(p){
    const c=document.createElementNS(NS,'circle');
    
    
    c.setAttribute('cx',sx(p[0]).toFixed(2));
    c.setAttribute('cy',sy(p[1]).toFixed(2));
    c.setAttribute('r','5.5');
    c.setAttribute('fill','#1f77b4');
    c.setAttribute('fill-opacity','0.8');
    g.appendChild(c);
  });
}
function drawPanel(id,points,lonePoints,copies,xTicks,yTicks,xLimits,yLimits,left,right,decimals){
  const top=35.5,bottom=561.5;
  const g=document.getElementById(id);
  const sx=linearScale(xLimits,[left,right]);
  const sy=linearScale(yLimits,[bottom,top]);
  addPoints(g,id,lonePoints,sx,sy);
  for(let i=0;i<copies;i++){
    addPoints(g,id,points,sx,sy);
  }
  xTicks.forEach(function(t){
    const px=Math.floor(sx(t))+0.5;
    const l=document.createElementNS(NS,'line');
    
    
    l.setAttribute('x1',px);l.setAttribute('x2',px);
    l.setAttribute('y1',bottom);l.setAttribute('y2',bottom+5);
    l.setAttribute('stroke','#000');l.setAttribute('stroke-width','1');
    g.appendChild(l);
    const s=document.createElementNS(NS,'text');
    
    
    s.setAttribute('class','tl');
    s.setAttribute('x',sx(t).toFixed(2));
    s.setAttribute('y',bottom+20.5);
    s.setAttribute('text-anchor','middle');
    s.textContent=fmt(t,decimals);
    g.appendChild(s);
  });
  yTicks.forEach(function(t){
    const py=Math.floor(sy(t))+0.5;
    const l=document.createElementNS(NS,'line');
    
    
    l.setAttribute('x1',left-5);l.setAttribute('x2',left);
    l.setAttribute('y1',py);l.setAttribute('y2',py);
    l.setAttribute('stroke','#000');l.setAttribute('stroke-width','1');
    g.appendChild(l);
    const s=document.createElementNS(NS,'text');
    
    
    s.setAttribute('class','tl');
    s.setAttribute('x',left-9.7);
    s.setAttribute('y',(sy(t)+5).toFixed(2));
    s.setAttribute('text-anchor','end');
    s.textContent=fmt(t,decimals);
    g.appendChild(s);
  });
  const f=document.createElementNS(NS,'rect');
  
  
  f.setAttribute('class','frame');
  f.setAttribute('x',left);f.setAttribute('y',top);
  f.setAttribute('width',right-left);f.setAttribute('height',bottom-top);
  g.appendChild(f);
}
drawPanel('pca',pcaPoints,[],1,pcaXTicks,pcaYTicks,pcaXLimits,pcaYLimits,45.5,683.5,0);
drawPanel('tsne',tsnePoints,tsneLonePoints,2,tsneXTicks,tsneYTicks,tsneXLimits,tsneYLimits,746.5,1384.5,0);
drawPanel('umap',umapPoints,umapLonePoints,2,umapXTicks,umapYTicks,umapXLimits,umapYLimits,1447.5,2084.5,1);
drawPanel('gtm',gtmPoints,[],1,gtmXTicks,gtmYTicks,gtmXLimits,gtmYLimits,2147.5,2785.5,1);
</script>
</body>
</html>
